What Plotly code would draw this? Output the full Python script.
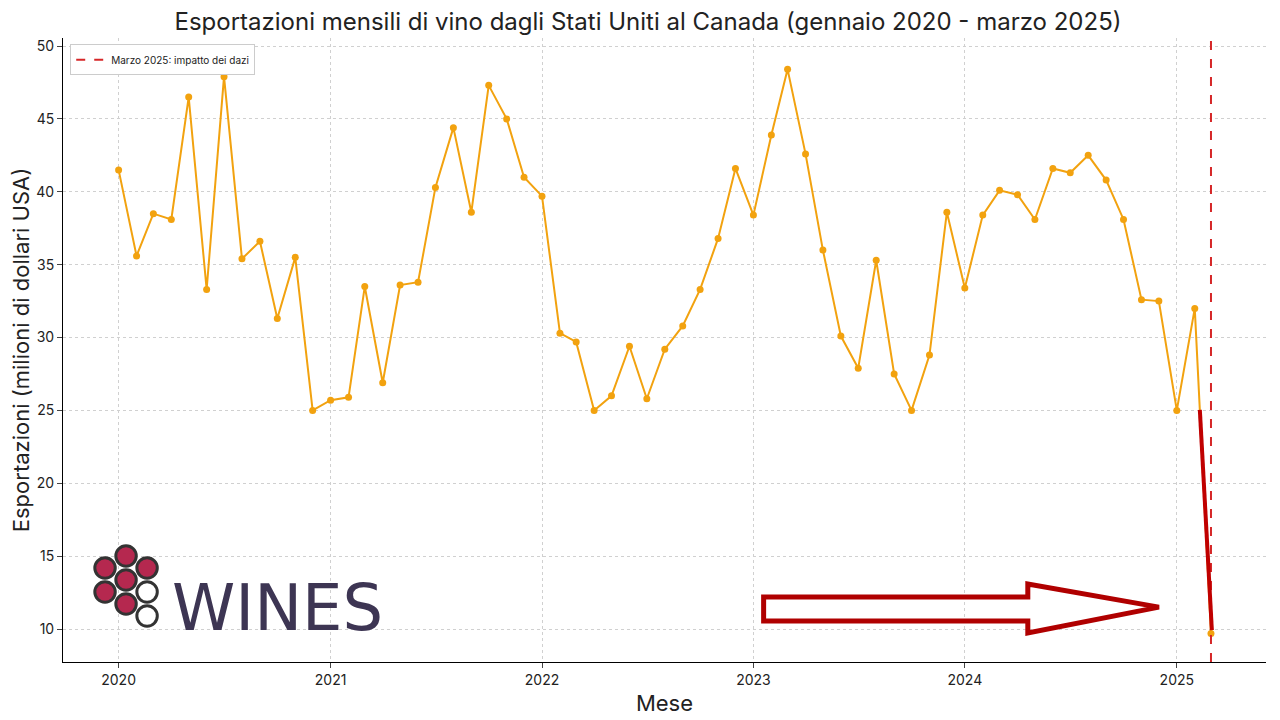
import plotly.graph_objects as go
import pandas as pd

months = pd.date_range("2020-01-01", "2025-03-01", freq="MS")
exports = [
    41.5, 35.6, 38.5, 38.1, 46.5, 33.3, 47.9, 35.4, 36.6, 31.3, 35.5, 25.0,
    25.7, 25.9, 33.5, 26.9, 33.6, 33.8, 40.3, 44.4, 38.6, 47.3, 45.0, 41.0,
    39.7, 30.3, 29.7, 25.0, 26.0, 29.4, 25.8, 29.2, 30.8, 33.3, 36.8, 41.6,
    38.4, 43.9, 48.4, 42.6, 36.0, 30.1, 27.9, 35.3, 27.5, 25.0, 28.8, 38.6,
    33.4, 38.4, 40.1, 39.8, 38.1, 41.6, 41.3, 42.5, 40.8, 38.1, 32.6, 32.5,
    25.0, 32.0, 9.7,
]
tariff_month = "2025-03-01"
tariff_label = "Marzo 2025: impatto dei dazi"
y_range = [7.74, 50.55]

fig = go.Figure()
fig.add_trace(go.Scatter(
    x=months, y=exports, mode="lines+markers",
    line=dict(color="#f2a20f", width=2), marker=dict(color="#f2a20f", size=7),
    showlegend=False,
))
fig.add_trace(go.Scatter(
    x=[tariff_month, tariff_month], y=y_range, mode="lines",
    line=dict(color="#d62728", width=2, dash="dash"), name=tariff_label,
))

shapes = []
# hand-drawn red stroke and hollow arrow
shapes.append(dict(type="line", xref="paper", yref="paper", x0=0.945, y0=0.404,
                   x1=0.955, y1=0.051, line=dict(color="#c00000", width=4)))
shapes.append(dict(type="path", xref="paper", yref="paper",
                   path="M 0.5824,0.104 L 0.802,0.104 L 0.802,0.125 L 0.911,0.088 "
                        "L 0.802,0.0465 L 0.802,0.0657 L 0.5824,0.0657 Z",
                   line=dict(color="#b00000", width=5)))
# grape logo
grapes = [(105, 568), (126, 556), (147, 568), (126, 580), (105, 592), (126, 604), (147, 592), (147, 616)]
for i, (gx, gy) in enumerate(grapes):
    cx, cy = (gx - 63) / 1202, (662 - gy) / 624
    fill = "white" if i in (6, 7) else "#b5284f"
    shapes.append(dict(type="circle", xref="paper", yref="paper",
                       x0=cx - 0.0085, x1=cx + 0.0085, y0=cy - 0.0163, y1=cy + 0.0163,
                       fillcolor=fill, line=dict(color="#333", width=3)))

fig.update_layout(
    width=1280, height=720,
    font=dict(family="Inter", color="#222"),
    title=dict(text="Esportazioni mensili di vino dagli Stati Uniti al Canada (gennaio 2020 - marzo 2025)",
               x=0.5, xanchor="center", y=0.981, yanchor="middle", font=dict(size=24)),
    plot_bgcolor="white", paper_bgcolor="white",
    margin=dict(l=55, r=22, t=30, b=66),
    xaxis=dict(title=dict(text="Mese", font=dict(size=22), standoff=8), type="date",
               range=["2019-09-27", "2025-06-04"], dtick="M12", tick0="2020-01-01",
               tickformat="%Y", showgrid=True, gridcolor="#d0d0d0", griddash="dot",
               showline=True, linecolor="black", ticks="outside", tickfont=dict(size=14),
               automargin=False),
    yaxis=dict(title=dict(text="Esportazioni (milioni di dollari USA)", font=dict(size=22), standoff=6),
               range=y_range, dtick=5, showgrid=True, gridcolor="#d0d0d0", griddash="dot",
               showline=True, linecolor="black", ticks="outside", tickfont=dict(size=14),
               zeroline=False, automargin=False),
    legend=dict(x=0.006, y=0.99, xanchor="left", yanchor="top", bordercolor="#ccc",
                borderwidth=1, font=dict(size=10), bgcolor="white"),
    shapes=shapes,
    annotations=[dict(text="WINES", xref="paper", yref="paper", x=(170 - 63) / 1202,
                      y=(662 - 608) / 624, xanchor="left", yanchor="middle", showarrow=False,
                      font=dict(size=64, color="#3d3553", family="DejaVu Sans"))],
)

fig.write_html("out.html")
